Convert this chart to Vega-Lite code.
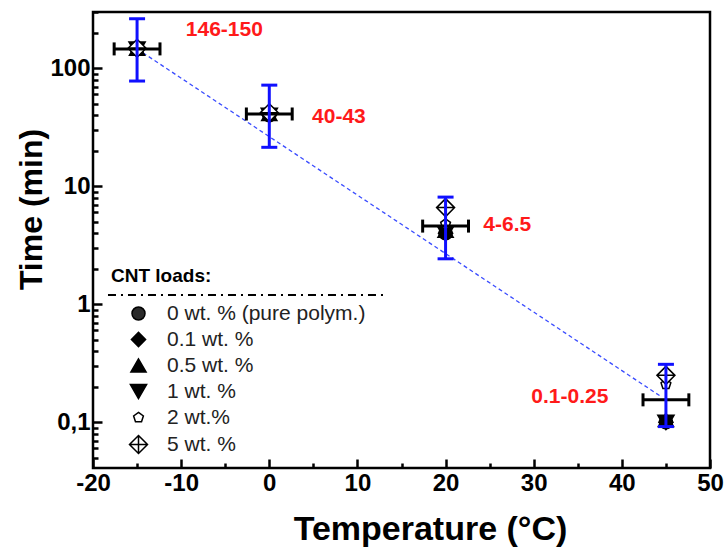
{
  "$schema": "https://vega.github.io/schema/vega-lite/v6.json",
  "width": 617,
  "height": 456,
  "autosize": {"type": "none"},
  "padding": {"left": 93, "top": 12, "right": 14, "bottom": 83},
  "background": "white",
  "config": {
    "view": {"stroke": "black", "strokeWidth": 2.5},
    "font": "Liberation Sans"
  },
  "datasets": {
    "pts": [
      {"T": -15, "t": 146, "load": "0 wt. % (pure polym.)"},
      {"T": -15, "t": 146, "load": "0.1 wt. %"},
      {"T": -15, "t": 147, "load": "0.5 wt. %"},
      {"T": -15, "t": 146, "load": "1 wt. %"},
      {"T": -15, "t": 150, "load": "2 wt.%"},
      {"T": -15, "t": 148, "load": "5 wt. %"},
      {"T": 0, "t": 40, "load": "0 wt. % (pure polym.)"},
      {"T": 0, "t": 40, "load": "0.1 wt. %"},
      {"T": 0, "t": 41, "load": "0.5 wt. %"},
      {"T": 0, "t": 40, "load": "1 wt. %"},
      {"T": 0, "t": 43, "load": "2 wt.%"},
      {"T": 0, "t": 42, "load": "5 wt. %"},
      {"T": 20, "t": 4.0, "load": "0 wt. % (pure polym.)"},
      {"T": 20, "t": 4.0, "load": "0.1 wt. %"},
      {"T": 20, "t": 4.2, "load": "0.5 wt. %"},
      {"T": 20, "t": 4.0, "load": "1 wt. %"},
      {"T": 20, "t": 4.8, "load": "2 wt.%"},
      {"T": 20, "t": 6.6, "load": "5 wt. %"},
      {"T": 45, "t": 0.1, "load": "0 wt. % (pure polym.)"},
      {"T": 45, "t": 0.1, "load": "0.1 wt. %"},
      {"T": 45, "t": 0.105, "load": "0.5 wt. %"},
      {"T": 45, "t": 0.1, "load": "1 wt. %"},
      {"T": 45, "t": 0.21, "load": "2 wt.%"},
      {"T": 45, "t": 0.25, "load": "5 wt. %"}
    ],
    "errs": [
      {"T": -15, "y": 146, "lo": 78, "hi": 263, "xlo": -17.6, "xhi": -12.4},
      {"T": 0, "y": 41, "lo": 21.4, "hi": 72, "xlo": -2.6, "xhi": 2.6},
      {"T": 20, "y": 4.6, "lo": 2.43, "hi": 8.1, "xlo": 17.4, "xhi": 22.6},
      {"T": 45, "y": 0.155, "lo": 0.092, "hi": 0.31, "xlo": 42.4, "xhi": 47.6}
    ],
    "fit": [
      {"T": -15, "t": 146},
      {"T": 44.3, "t": 0.168}
    ],
    "labels": [
      {"T": -5.1, "t": 212, "text": "146-150"},
      {"T": 7.9, "t": 38.8, "text": "40-43"},
      {"T": 27.0, "t": 4.72, "text": "4-6.5"},
      {"T": 34.1, "t": 0.164, "text": "0.1-0.25"}
    ],
    "legline": [
      {"x1": -18.3, "x2": 12.9, "t": 1.2}
    ]
  },
  "layer": [
    {
      "data": {"name": "fit"},
      "mark": {"type": "line", "color": "#3a4cff", "strokeWidth": 1.3, "strokeDash": [4, 3]},
      "encoding": {
        "x": {
          "field": "T", "type": "quantitative",
          "scale": {"domain": [-20, 50], "nice": false, "zero": false},
          "axis": {
            "title": "Temperature (°C)",
            "values": [-20, -15, -10, -5, 0, 5, 10, 15, 20, 25, 30, 35, 40, 45, 50],
            "labelExpr": "datum.value % 10 == 0 ? datum.value + '' : ''",
            "labelOverlap": false,
            "domain": false,
            "grid": false,
            "tickColor": "black",
            "tickWidth": 2.5,
            "tickSize": {"condition": {"test": "datum.value % 10 == 0", "value": -9}, "value": -5},
            "labelPadding": 12,
            "labelFont": "Liberation Sans",
            "labelFontSize": 24,
            "labelFontWeight": "bold",
            "labelColor": "black",
            "labelFlush": false,
            "titleFont": "Liberation Sans",
            "titleFontSize": 34,
            "titleFontWeight": "bold",
            "titleColor": "black",
            "titleBaseline": "alphabetic",
            "titleX": 337,
            "titleY": 71
          }
        },
        "y": {
          "field": "t", "type": "quantitative",
          "scale": {"type": "log", "domain": [0.041, 300], "nice": false},
          "axis": {
            "title": "Time (min)",
            "values": [0.05, 0.06, 0.07, 0.08, 0.09, 0.1, 0.2, 0.3, 0.4, 0.5, 0.6, 0.7, 0.8, 0.9, 1, 2, 3, 4, 5, 6, 7, 8, 9, 10, 20, 30, 40, 50, 60, 70, 80, 90, 100, 200, 300],
            "labelExpr": "abs(log(datum.value)/LN10 - round(log(datum.value)/LN10)) < 0.001 ? (datum.value < 0.5 ? '0,1' : format(datum.value, 'd')) : ''",
            "labelOverlap": false,
            "domain": false,
            "grid": false,
            "tickColor": "black",
            "tickWidth": 2.5,
            "tickSize": {"condition": {"test": "abs(log(datum.value)/LN10 - round(log(datum.value)/LN10)) < 0.001", "value": -9}, "value": -5},
            "labelPadding": 12,
            "labelFont": "Liberation Sans",
            "labelFontSize": 24,
            "labelFontWeight": "bold",
            "labelColor": "black",
            "labelFlush": false,
            "titleFont": "Liberation Sans",
            "titleFontSize": 32,
            "titleFontWeight": "bold",
            "titleColor": "black",
            "titleAngle": 270,
            "titleBaseline": "alphabetic",
            "titleAlign": "center",
            "titleX": -52,
            "titleY": 197
          }
        }
      }
    },
    {
      "data": {"name": "legline"},
      "mark": {"type": "rule", "color": "black", "strokeWidth": 2, "strokeDash": [8, 5, 2, 5]},
      "encoding": {
        "x": {"field": "x1", "type": "quantitative"},
        "x2": {"field": "x2"},
        "y": {"field": "t", "type": "quantitative"}
      }
    },
    {
      "data": {"name": "pts"},
      "mark": {"type": "point", "filled": true, "stroke": "black", "strokeWidth": 1.5, "opacity": 1},
      "encoding": {
        "x": {"field": "T", "type": "quantitative"},
        "y": {"field": "t", "type": "quantitative"},
        "shape": {
          "field": "load", "type": "nominal",
          "scale": {
            "domain": ["0 wt. % (pure polym.)", "0.1 wt. %", "0.5 wt. %", "1 wt. %", "2 wt.%", "5 wt. %"],
            "range": ["circle", "diamond", "triangle-up", "triangle-down", "M0,-0.6L0.571,-0.185L0.353,0.485L-0.353,0.485L-0.571,-0.185Z", "M0,-1L1,0L0,1L-1,0Z M-1,0L1,0 M0,-1L0,1"]
          },
          "legend": {
            "title": "CNT loads:",
            "orient": "none",
            "legendX": 18,
            "legendY": 255,
            "padding": 0,
            "titleFont": "Liberation Sans",
            "titleFontSize": 19,
            "titleFontWeight": "bold",
            "titleColor": "black",
            "titlePadding": 17,
            "labelFont": "Liberation Sans",
            "labelFontSize": 21,
            "labelColor": "#222222",
            "labelLimit": 400,
            "rowPadding": 4,
            "symbolOffset": 17,
            "labelOffset": 18,
            "symbolStrokeColor": "black",
            "symbolStrokeWidth": 1.5
          }
        },
        "fill": {
          "field": "load", "type": "nominal",
          "scale": {
            "domain": ["0 wt. % (pure polym.)", "0.1 wt. %", "0.5 wt. %", "1 wt. %", "2 wt.%", "5 wt. %"],
            "range": ["#2a2a2a", "black", "black", "black", "white", "white"]
          },
          "legend": {
            "title": "CNT loads:",
            "orient": "none",
            "legendX": 18,
            "legendY": 255
          }
        },
        "size": {
          "field": "load", "type": "ordinal",
          "scale": {
            "domain": ["0 wt. % (pure polym.)", "0.1 wt. %", "0.5 wt. %", "1 wt. %", "2 wt.%", "5 wt. %"],
            "range": [169, 324, 289, 289, 324, 324]
          },
          "legend": {
            "title": "CNT loads:",
            "orient": "none",
            "legendX": 18,
            "legendY": 255
          }
        }
      }
    },
    {
      "data": {"name": "errs"},
      "mark": {"type": "rule", "color": "black", "strokeWidth": 3},
      "encoding": {
        "x": {"field": "xlo", "type": "quantitative"},
        "x2": {"field": "xhi"},
        "y": {"field": "y", "type": "quantitative"}
      }
    },
    {
      "data": {"name": "errs"},
      "mark": {"type": "tick", "color": "black", "orient": "vertical", "size": 13, "thickness": 3, "opacity": 1},
      "encoding": {
        "x": {"field": "xlo", "type": "quantitative"},
        "y": {"field": "y", "type": "quantitative"}
      }
    },
    {
      "data": {"name": "errs"},
      "mark": {"type": "tick", "color": "black", "orient": "vertical", "size": 13, "thickness": 3, "opacity": 1},
      "encoding": {
        "x": {"field": "xhi", "type": "quantitative"},
        "y": {"field": "y", "type": "quantitative"}
      }
    },
    {
      "data": {"name": "errs"},
      "mark": {"type": "rule", "color": "#1010ff", "strokeWidth": 3},
      "encoding": {
        "x": {"field": "T", "type": "quantitative"},
        "y": {"field": "lo", "type": "quantitative"},
        "y2": {"field": "hi"}
      }
    },
    {
      "data": {"name": "errs"},
      "mark": {"type": "tick", "color": "#1010ff", "orient": "horizontal", "size": 16, "thickness": 3, "opacity": 1},
      "encoding": {
        "x": {"field": "T", "type": "quantitative"},
        "y": {"field": "lo", "type": "quantitative"}
      }
    },
    {
      "data": {"name": "errs"},
      "mark": {"type": "tick", "color": "#1010ff", "orient": "horizontal", "size": 16, "thickness": 3, "opacity": 1},
      "encoding": {
        "x": {"field": "T", "type": "quantitative"},
        "y": {"field": "hi", "type": "quantitative"}
      }
    },
    {
      "data": {"name": "labels"},
      "mark": {"type": "text", "color": "#ff1a1a", "font": "Liberation Sans", "fontSize": 21, "fontWeight": "bold", "align": "center", "baseline": "middle"},
      "encoding": {
        "x": {"field": "T", "type": "quantitative"},
        "y": {"field": "t", "type": "quantitative"},
        "text": {"field": "text"}
      }
    }
  ]
}
